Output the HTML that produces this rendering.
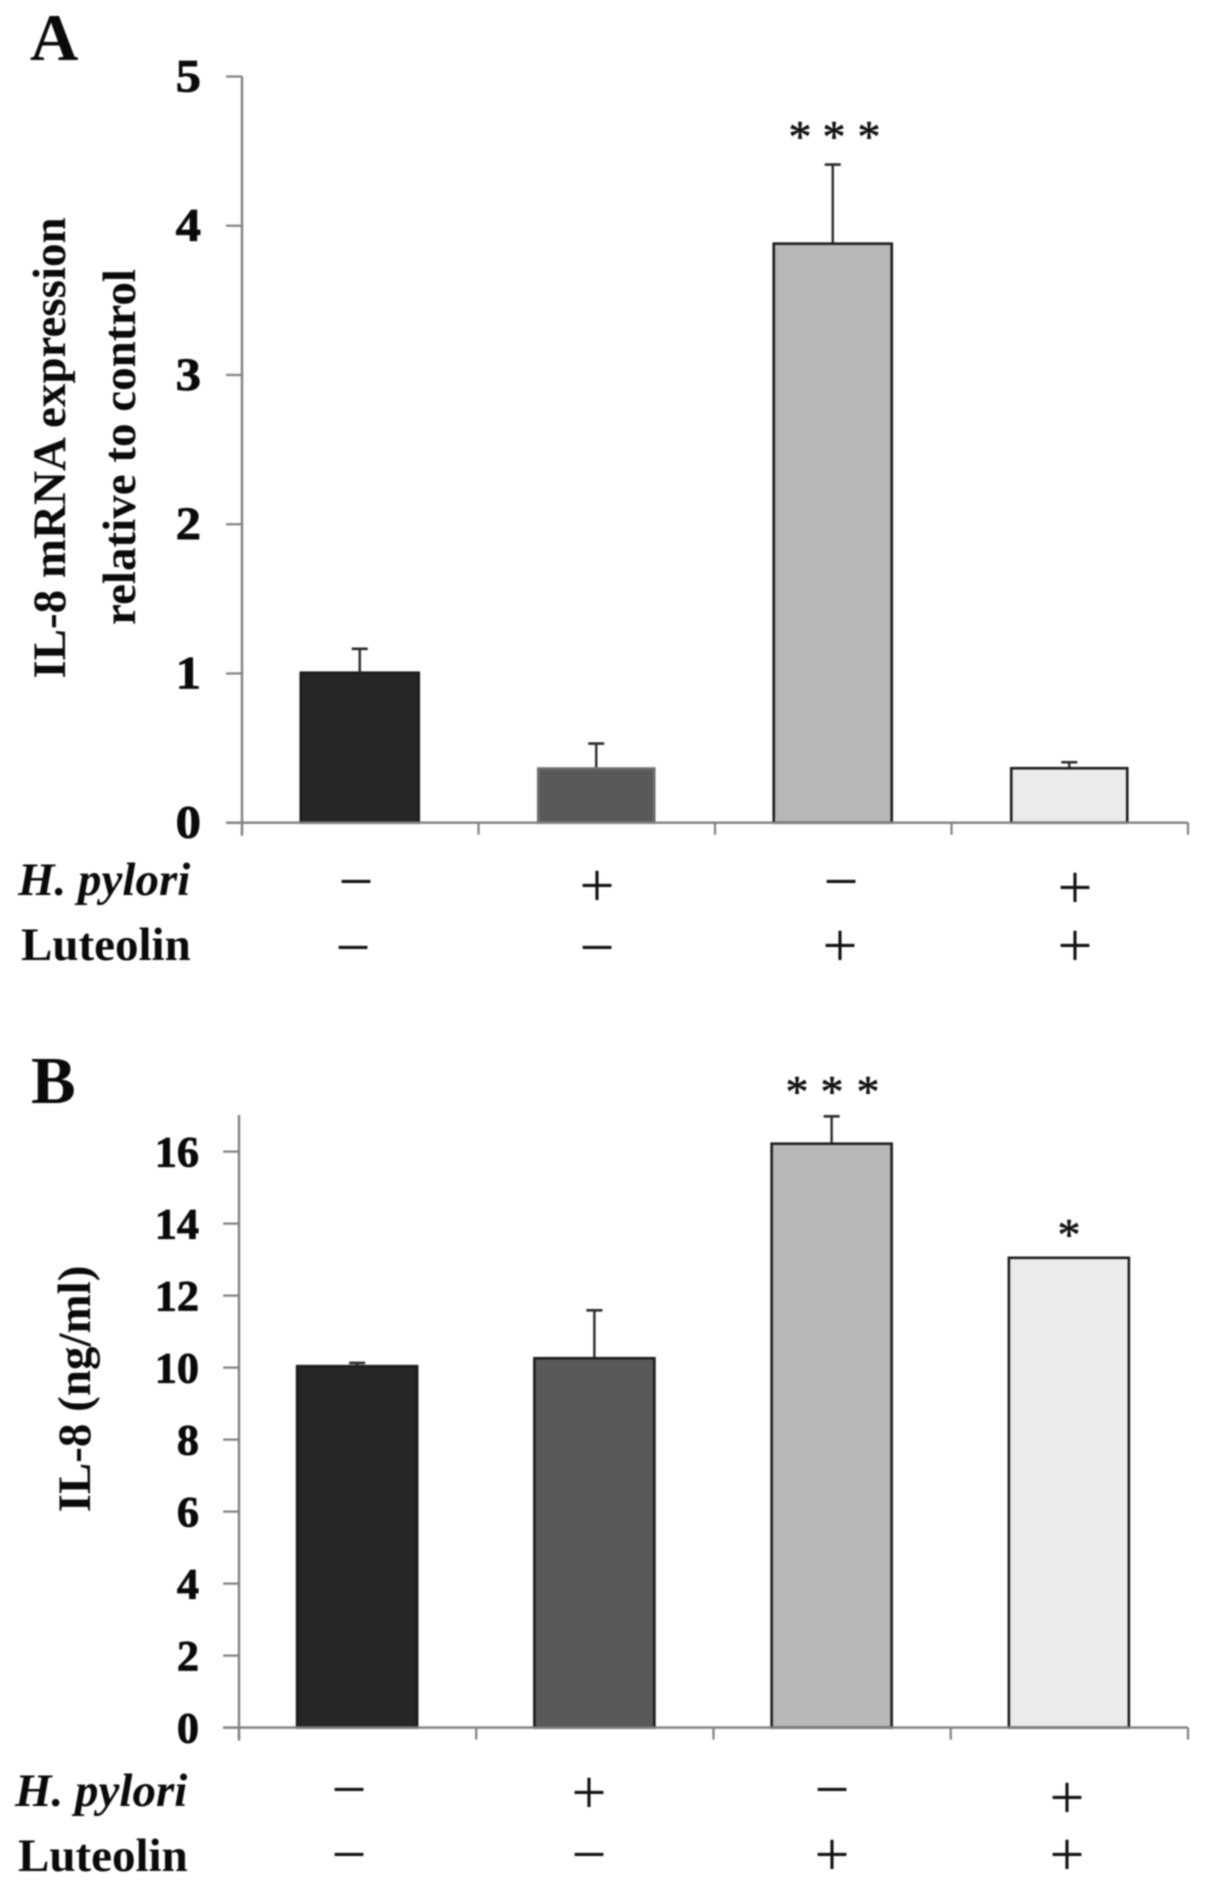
<!DOCTYPE html>
<html lang="en">
<head>
<meta charset="utf-8">
<title>IL-8 expression charts</title>
<style>
  html, body { margin: 0; padding: 0; background: #fff; }
  svg { display: block; filter: blur(0.8px); }
  text { font-family: "Liberation Serif", serif; fill: #0a0a0a; }
  .tick { font-weight: bold; text-anchor: end; stroke: #0a0a0a; stroke-width: 0.8px; }
  .title { font-weight: bold; font-size: 47px; text-anchor: middle; }
  .panel { font-weight: bold; font-size: 67px; }
  .row { font-weight: bold; font-size: 47px; }
  .sign { font-size: 62px; text-anchor: middle; fill: #111; }
  .star { font-size: 46px; text-anchor: middle; fill: #111; stroke: #111; stroke-width: 0.6px; }
</style>
</head>
<body>
<svg id="figure" xmlns="http://www.w3.org/2000/svg" width="1205" height="1890" viewBox="0 0 1205 1890">
  <rect width="1205" height="1890" fill="#fff"/>

  <text class="panel" x="30" y="60">A</text>
  <text class="title" transform="translate(65 448) rotate(-90)">IL-8 mRNA expression</text>
  <text class="title" transform="translate(135 447) rotate(-90)">relative to control</text>
  <g id="panelA"></g>
  <text class="row" font-style="italic" x="18" y="895">H. pylori</text>
  <text class="row" x="21" y="960">Luteolin</text>
  <g>
    <text class="sign" x="356" y="902">−</text>
    <text class="sign" x="597" y="906">+</text>
    <text class="sign" x="841" y="902">−</text>
    <text class="sign" x="1075" y="908">+</text>
    <text class="sign" x="353" y="968">−</text>
    <text class="sign" x="597" y="968">−</text>
    <text class="sign" x="840" y="966">+</text>
    <text class="sign" x="1075" y="966">+</text>
  </g>
  <g>
    <text class="star" x="800" y="152">*</text>
    <text class="star" x="834" y="152">*</text>
    <text class="star" x="869" y="152">*</text>
  </g>

  <text class="panel" x="31" y="1103">B</text>
  <text class="title" transform="translate(90 1389) rotate(-90)">IL-8 (ng/ml)</text>
  <g id="panelB"></g>
  <text class="row" font-style="italic" x="15" y="1806">H. pylori</text>
  <text class="row" x="18" y="1871">Luteolin</text>
  <g>
    <text class="sign" x="349" y="1810">−</text>
    <text class="sign" x="589" y="1813">+</text>
    <text class="sign" x="832" y="1810">−</text>
    <text class="sign" x="1067" y="1818">+</text>
    <text class="sign" x="349" y="1875">−</text>
    <text class="sign" x="589" y="1875">−</text>
    <text class="sign" x="832" y="1875">+</text>
    <text class="sign" x="1067" y="1875">+</text>
  </g>
  <g>
    <text class="star" x="797" y="1107">*</text>
    <text class="star" x="832" y="1107">*</text>
    <text class="star" x="868" y="1107">*</text>
    <text class="star" x="1069" y="1250">*</text>
  </g>
</svg>
<script>
const categories = ['control', 'h-pylori', 'luteolin', 'h-pylori-luteolin'];
const barColors = ['#262626', '#595959', '#b7b7b7', '#ebebeb'];

const valuesA = [1.005, 0.363, 3.88, 0.365];
const errorTopsA = [1.165, 0.53, 4.41, 0.405];
const ticksA = [0, 1, 2, 3, 4, 5];

const valuesB = [10.04, 10.26, 16.22, 13.05];
const errorTopsB = [10.13, 11.59, 16.98, 13.05];
const ticksB = [0, 2, 4, 6, 8, 10, 12, 14, 16];

const NS = 'http://www.w3.org/2000/svg';

function make(parent, tag, attrs) {
  const el = document.createElementNS(NS, tag);
  for (const k in attrs) el.setAttribute(k, attrs[k]);
  parent.appendChild(el);
  return el;
}

function drawPanel(parent, suffix, values, errorTops, ticks, cfg) {
  const yScale = v => cfg.y0 - (v / cfg.yMax) * (cfg.y0 - cfg.yTop);
  const band = (cfg.x1 - cfg.x0) / categories.length;
  const xCenter = i => cfg.x0 + band * (i + 0.5);
  const axisColor = '#808080';

  values.forEach((v, i) => {
    const cx = xCenter(i) - 0.5;
    const top = yScale(v);
    const errTop = yScale(errorTops[i]);
    if (errorTops[i] > v) {
      const stem = make(parent, 'line', { x1: cx, x2: cx, y1: top, y2: errTop, stroke: '#2a2a2a', 'stroke-width': 2.4 });
      
      
      const cap = make(parent, 'line', { x1: cx - 8, x2: cx + 8, y1: errTop, y2: errTop, stroke: '#2a2a2a', 'stroke-width': 2.6 });
      
      
    }
    const width = (suffix === 'a' && (i === 1 || i === 3)) ? cfg.barWidth - 2 : cfg.barWidth;
    const bar = make(parent, 'rect', {
      x: cx - width / 2, y: top, width: width, height: cfg.y0 - top,
      fill: barColors[i], stroke: i === 1 && suffix === 'a' ? '#6e6e6e' : '#1c1c1c', 'stroke-width': 2.6
    });
    
    
  });

  const yAxis = make(parent, 'line', { x1: cfg.x0, x2: cfg.x0, y1: cfg.yAxisTop, y2: cfg.y0 + 13, stroke: axisColor, 'stroke-width': 2.4 });
  
  
  const xAxis = make(parent, 'line', { x1: cfg.x0 - 16, x2: cfg.x1, y1: cfg.y0, y2: cfg.y0, stroke: axisColor, 'stroke-width': 2.4 });
  
  

  for (let i = 0; i <= categories.length; i++) {
    const tx = cfg.x0 + band * i;
    const xt = make(parent, 'line', { x1: tx, x2: tx, y1: cfg.y0, y2: cfg.y0 + 12, stroke: axisColor, 'stroke-width': 2.2 });
    
    
  }

  ticks.forEach(t => {
    const ty = yScale(t);
    const mark = make(parent, 'line', { x1: cfg.x0 - 16, x2: cfg.x0, y1: ty, y2: ty, stroke: axisColor, 'stroke-width': 2.2 });
    
    
    const label = make(parent, 'text', {
      class: 'tick', x: 0, y: 0,
      transform: 'translate(' + cfg.labelX + ' ' + (ty + cfg.labelDy) + ') scale(' + cfg.labelStretch + ' 1)'
    });
    label.style.fontSize = cfg.labelSize + 'px';
    label.textContent = String(t);
    
    
  });
}

drawPanel(document.getElementById('panelA'), 'a', valuesA, errorTopsA, ticksA, {
  x0: 242, x1: 1188, y0: 822.7, yTop: 76.5, yMax: 5, yAxisTop: 76.5, barWidth: 118, labelDy: 15, labelSize: 47, labelStretch: 1.08, labelX: 201
});
drawPanel(document.getElementById('panelB'), 'b', valuesB, errorTopsB, ticksB, {
  x0: 239, x1: 1188, y0: 1727.6, yTop: 1151.6, yMax: 16, yAxisTop: 1115, barWidth: 120, labelDy: 15, labelSize: 43, labelStretch: 1.03, labelX: 199
});
</script>
</body>
</html>
